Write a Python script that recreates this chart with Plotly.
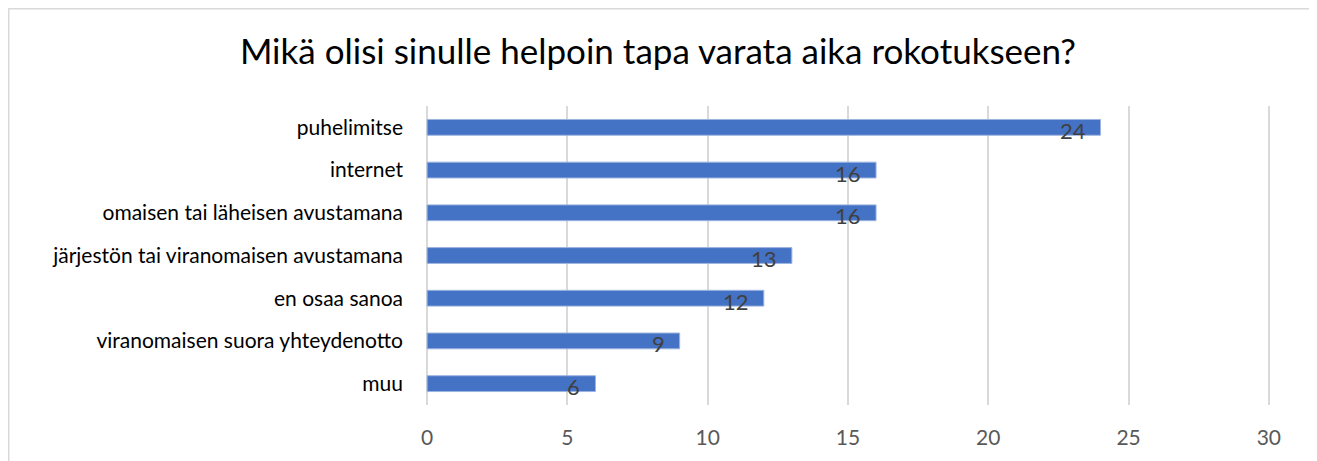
import plotly.graph_objects as go

# Data
categories = ['puhelimitse', 'internet', 'omaisen tai läheisen avustamana',
              'järjestön tai viranomaisen avustamana', 'en osaa sanoa',
              'viranomaisen suora yhteydenotto', 'muu']
counts = [24, 16, 16, 13, 12, 9, 6]
x_ticks = [0, 5, 10, 15, 20, 25, 30]

bar_color = '#4472C4'
font_name = 'Lato, Open Sans, sans-serif'

fig = go.Figure(go.Bar(
    x=counts, y=categories, orientation='h',
    marker=dict(color=bar_color, line=dict(color='#9DB4E0', width=1)),
    width=0.37, hoverinfo='x+y',
))

# value labels sit at the inside end, slightly below the bar centre
for cat, val in zip(categories, counts):
    fig.add_annotation(x=val, y=cat, text=str(val), showarrow=False,
                       xanchor='right', yanchor='middle', xshift=-13, yshift=-3,
                       font=dict(size=22, color='#404040', family=font_name))

# outer chart border
fig.add_shape(type='rect', xref='paper', yref='paper',
              x0=-0.4947, x1=1.0486, y0=-0.5, y1=1.3261,
              line=dict(color='#D9D9D9', width=2), layer='below')

# page body adds 8px, so margins are pulled in by that much
fig.update_layout(
    width=1317, height=461,
    margin=dict(l=418, r=55, t=98, b=64, autoexpand=False),
    paper_bgcolor='white', plot_bgcolor='white',
    title=dict(text='Mikä olisi sinulle helpoin tapa varata aika rokotukseen?',
               x=0.4935, xref='container', xanchor='center', y=0.905, yref='container',
               yanchor='middle',
               font=dict(size=35, color='#000000', family=font_name)),
    font=dict(family=font_name, color='#404040'),
    xaxis=dict(range=[-0.04, 30.04], tickvals=x_ticks, showgrid=True, gridcolor='#D9D9D9',
               gridwidth=1.5, zeroline=False, tickfont=dict(size=21, color='#595959'),
               ticks='', ticklabelstandoff=18, automargin=False),
    yaxis=dict(autorange='reversed', tickfont=dict(size=21, color='#000000'),
               ticks='', ticklabelstandoff=22, showline=False, automargin=False),
    showlegend=False,
)

fig.write_html('out.html')
